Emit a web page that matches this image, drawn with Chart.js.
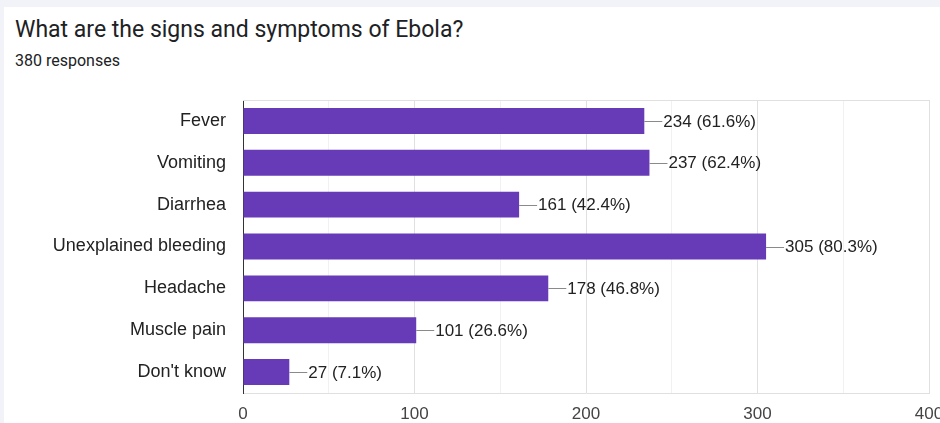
<!DOCTYPE html>
<html>
<head>
<meta charset="utf-8">
<script src="https://cdn.jsdelivr.net/npm/chart.js@4/dist/chart.umd.min.js"></script>
<style>
  html, body { margin: 0; padding: 0; overflow: hidden; }
  body { background: #f1f3f8; width: 940px; height: 423px; position: relative; }
  #card { position: absolute; left: 4px; top: 7px; width: 960px; height: 430px; background: #fff; }
  #title { position: absolute; left: 11px; top: 10px; font: 23px Roboto, sans-serif; line-height: 26px; color: #202124; white-space: nowrap; }
  #subtitle { position: absolute; left: 11px; top: 45px; font: 16px Roboto, sans-serif; line-height: 18px; color: #202124; white-space: nowrap; }
  #chartBox { position: absolute; left: 0; top: 80px; line-height: 0; }
  canvas { display: block; }
</style>
</head>
<body>
<div id="card">
  <div id="title">What are the signs and symptoms of Ebola?</div>
  <div id="subtitle">380 responses</div>
  <div id="chartBox"><canvas id="symptomsChart" width="960" height="336"></canvas></div>
</div>
<script>
const symptoms = ['Fever', 'Vomiting', 'Diarrhea', 'Unexplained bleeding', 'Headache', 'Muscle pain', "Don't know"];
const counts = [234, 237, 161, 305, 178, 101, 27];
const percents = ['61.6%', '62.4%', '42.4%', '80.3%', '46.8%', '26.6%', '7.1%'];
const xTicks = [0, 100, 200, 300, 400];

const fontFamily = '"Liberation Sans", Arial, sans-serif';

// leader line + "count (pct)" after each bar, plus the top edge of the plot
const valueLabels = {
  id: 'valueLabels',
  beforeDatasetsDraw(chart) {
    const { ctx, chartArea } = chart;
    ctx.save();
    ctx.strokeStyle = '#e0e0e0';
    ctx.lineWidth = 1;
    ctx.beginPath();
    ctx.moveTo(chartArea.left, chartArea.top + 0.5);
    ctx.lineTo(chartArea.right, chartArea.top + 0.5);
    ctx.stroke();
    ctx.restore();
  },
  afterDatasetsDraw(chart) {
    const { ctx } = chart;
    const meta = chart.getDatasetMeta(0);
    ctx.save();
    ctx.font = '17px ' + fontFamily;
    ctx.textBaseline = 'middle';
    ctx.textAlign = 'left';
    meta.data.forEach((bar, i) => {
      const y = Math.round(bar.y) + 0.5;
      ctx.strokeStyle = '#8a8a8a';
      ctx.lineWidth = 1;
      ctx.beginPath();
      ctx.moveTo(bar.x, y);
      ctx.lineTo(bar.x + 18, y);
      ctx.stroke();
      ctx.fillStyle = '#222';
      ctx.fillText(counts[i] + ' (' + percents[i] + ')', bar.x + 19, bar.y + 1);
    });
    ctx.restore();
  }
};

const ctx = document.getElementById('symptomsChart').getContext('2d');

new Chart(ctx, {
  type: 'bar',
  data: {
    labels: symptoms,
    datasets: [{
      data: counts,
      backgroundColor: '#673ab7',
      borderWidth: 0,
      categoryPercentage: 1,
      barPercentage: 0.62
    }]
  },
  options: {
    indexAxis: 'y',
    responsive: false,
    animation: false,
    devicePixelRatio: 1,
    layout: { padding: { top: 13, right: 35, left: 0, bottom: 0 } },
    plugins: {
      legend: { display: false },
      tooltip: { enabled: false }
    },
    scales: {
      x: {
        min: 0,
        max: 400,
        afterFit(s) { s.height = 30; s.paddingLeft = 0; s.paddingRight = 0; },
        ticks: {
          stepSize: 50,
          padding: 11,
          color: '#444',
          font: { family: fontFamily, size: 17 },
          callback: (v) => xTicks.includes(v) ? String(v) : ''
        },
        grid: {
          drawTicks: false,
          color: (c) => c.tick && c.tick.value === 0 ? 'rgba(0,0,0,0)' : (c.tick && c.tick.value % 100 === 0 ? '#e0e0e0' : '#f1f1f1')
        },
        border: { color: '#e0e0e0' }
      },
      y: {
        afterFit(s) { s.width = 239; s.paddingTop = 0; s.paddingBottom = 0; },
        ticks: {
          padding: 17,
          color: '#222',
          font: { family: fontFamily, size: 18 }
        },
        grid: { display: false, drawTicks: false },
        border: { color: '#333', width: 1 }
      }
    }
  },
  plugins: [valueLabels]
});
</script>
</body>
</html>
